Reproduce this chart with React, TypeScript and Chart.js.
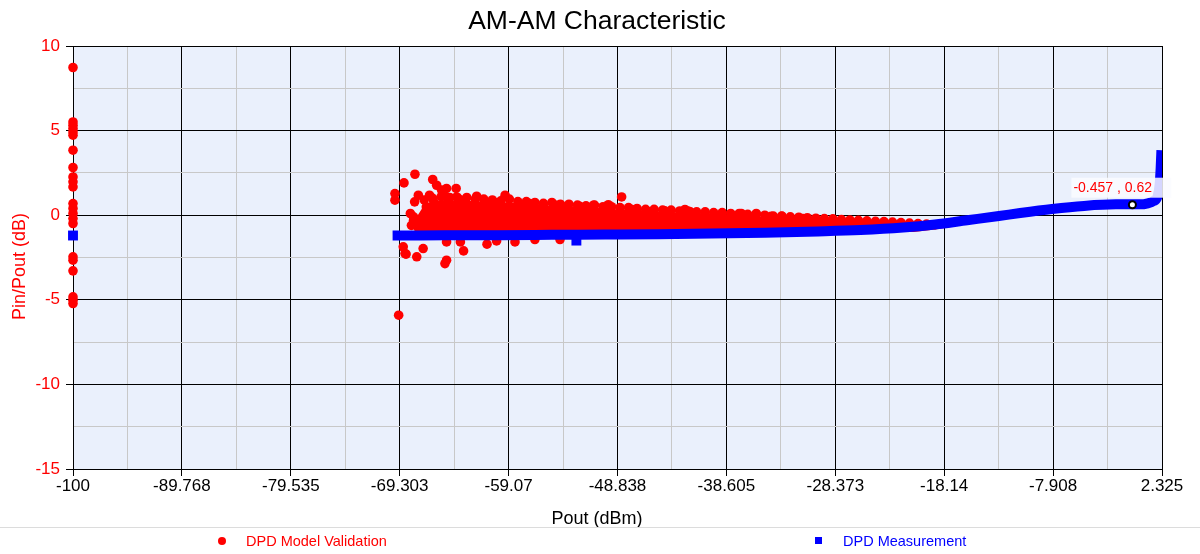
import React, { useEffect, useRef } from 'react';
import { Chart, registerables } from 'chart.js';

Chart.register(...registerables);

const FONT = '"Liberation Sans", Arial, Helvetica, sans-serif';
const RED = '#ff0000';
const BLUE = '#0000ff';
const PLOT_BG = '#eaf0fc';

// ---- axes ----
const xMin = -100;
const xMax = 2.325;
const xTickValues = [-100, -89.7675, -79.535, -69.3025, -59.07, -48.8375, -38.605, -28.3725, -18.14, -7.9075, 2.325];
const xTickLabels = ['-100', '-89.768', '-79.535', '-69.303', '-59.07', '-48.838', '-38.605', '-28.373', '-18.14', '-7.908', '2.325'];
const yTickValues = [-15, -10, -5, 0, 5, 10];
const yTickLabels = ['-15', '-10', '-5', '0', '5', '10'];

// ---- DPD Model Validation (red) ----
// points sitting on the Pout = -100 axis
const redAxisY = [8.73, 5.51, 5.32, 5.12, 4.92, 4.73, 3.84, 2.82, 2.26, 1.97, 1.67, 0.69, 0.4, 0.1, -0.2, -0.49, -2.46, -2.66, -3.29, -4.83, -5.02, -5.22];
// scattered points
const redX = [
  -69.75, -69.75, -68.9, -67.87, -66.2, -65.83, -65.36, -64.9, -64.0, -67.55, -67.9, -66.5, -62.07, -59.4,
  -68.0, -67.55, -68.97, -68.8, -67.7, -67.1, -64.9, -65.05, -63.3, -64.9, -63.6, -61.1, -60.2, -58.47,
  -56.6, -54.24, -69.4, -68.7, -48.45, -49.7, -51.1, -47.5, -45.9, -44.4, -42.5, -42.0, -37.2, -35.8,
  -34.4, -33.4, -31.4, -63.95, -63.2, -61.1, -60.2, -58.0, -57.1, -55.8, -54.6, -53.6, -52.4, -66.8,
  -66.1, -64.9, -65.5, -66.5, -67.1, -67.4, -65.8, -68.3, -68.0, -67.6, -68.2, -66.0, -65.2, -62.5,
];
const redY = [
  1.28, 0.89, 1.91, 2.42, 2.11, 1.77, 1.48, 1.58, 1.58, 1.18, 0.79, 1.18, 1.12, 1.18,
  -0.1, -0.4, -1.87, -2.27, -2.46, -1.97, -2.66, -2.86, -2.11, -1.58, -1.58, -1.71, -1.52, -1.58,
  -1.44, -1.44, -5.91, -2.3, 1.08, 0.62, 0.59, 0.34, 0.2, 0.26, 0.34, 0.2, 0.1, 0.1,
  -0.06, -0.06, -0.2, 1.08, 0.89, 0.69, 0.73, 0.59, 0.69, 0.53, 0.59, 0.49, 0.53, 0.49,
  0.79, 1.08, 0.3, 0.0, -0.3, -0.49, -0.49, 0.1, -0.3, -0.7, -0.6, -0.9, -0.3, -1.1,
];
// points along the top of the dense red cloud
const redEdgeX = [
  -67.0, -66.2, -65.4, -64.6, -63.8, -63.0, -62.2, -61.4, -60.6, -59.8, -59.0, -58.2, -57.4, -56.6, -55.8,
  -55.0, -54.2, -53.4, -52.6, -51.8, -51.0, -50.2, -49.4, -48.6, -47.8, -47.0, -46.2, -45.4, -44.6, -43.8,
  -43.0, -42.2, -41.4, -40.6, -39.8, -39.0, -38.2, -37.4, -36.6, -35.8, -35.0, -34.2, -33.4, -32.6, -31.8,
  -31.0, -30.2, -29.4, -28.6, -27.8, -27.0, -26.2, -25.4, -24.6, -23.8, -23.0, -22.2, -21.4, -20.6, -19.8, -19.0,
];
const redEdgeY = [
  0.9, 1.0, 1.1, 1.05, 1.0, 1.05, 0.95, 0.95, 0.9, 0.85, 0.95, 0.8, 0.8, 0.75, 0.7,
  0.75, 0.65, 0.65, 0.6, 0.55, 0.6, 0.5, 0.5, 0.45, 0.45, 0.4, 0.35, 0.35, 0.3, 0.3,
  0.25, 0.25, 0.2, 0.2, 0.15, 0.15, 0.1, 0.1, 0.05, 0.05, 0.0, -0.05, -0.05, -0.1, -0.12,
  -0.15, -0.18, -0.2, -0.22, -0.26, -0.28, -0.3, -0.33, -0.36, -0.38, -0.41, -0.44, -0.47, -0.5, -0.53, -0.56,
];
// dense red cloud envelope
const bandX = [-67.8, -67.0, -66.0, -65.0, -63.0, -61.0, -59.0, -57.0, -55.0, -53.0, -51.0, -49.0, -47.0, -45.0, -43.0, -41.0, -39.0, -37.0, -35.0, -33.0, -31.0, -29.0, -27.0, -25.0, -23.0, -21.0, -19.0, -17.5];
const bandUpper = [-0.2, 0.6, 0.85, 0.9, 0.85, 0.8, 0.75, 0.65, 0.55, 0.5, 0.45, 0.35, 0.3, 0.2, 0.15, 0.1, 0.05, 0.0, -0.1, -0.15, -0.2, -0.25, -0.3, -0.38, -0.45, -0.52, -0.6, -0.66];
const bandLower = [-0.9, -1.3, -1.35, -1.35, -1.35, -1.3, -1.3, -1.3, -1.25, -1.25, -1.2, -1.2, -1.2, -1.15, -1.15, -1.1, -1.1, -1.05, -1.05, -1.0, -1.0, -0.98, -0.98, -0.98, -0.98, -1.0, -0.85, -0.7];

// ---- DPD Measurement (blue) ----
const blueX = [-69.5, -65, -60, -55, -50, -45, -40, -35, -30, -26, -22, -19, -16, -13, -11, -8, -5, -2, 0.2, 1.0, 1.5, 1.9, 2.1, 2.2, 2.25];
const blueY = [-1.2, -1.19, -1.18, -1.16, -1.14, -1.12, -1.08, -1.03, -0.96, -0.88, -0.73, -0.55, -0.3, -0.05, 0.13, 0.37, 0.55, 0.64, 0.64, 0.7, 0.82, 1.1, 1.8, 2.8, 3.55];
const blueSquareX = [-100, -52.7];
const blueSquareY = [-1.2, -1.5];

// ---- marker ----
const markerX = -0.457;
const markerY = 0.62;
const markerLabel = `${markerX} , ${markerY}`;

const titleText = 'AM-AM Characteristic';
const xTitle = 'Pout (dBm)';
const yTitle = 'Pin/Pout (dB)';
const legendNames = ['DPD Model Validation', 'DPD Measurement'];

function gridValues(major: number[]): number[] {
  const out: number[] = [];
  major.forEach((v, i) => {
    out.push(v);
    if (i < major.length - 1) out.push((v + major[i + 1]) / 2);
  });
  return out;
}

const plotBgPlugin = {
  id: 'plotBg',
  beforeDraw(chart: any) {
    const { ctx, chartArea } = chart;
    ctx.save();
    ctx.fillStyle = PLOT_BG;
    ctx.fillRect(chartArea.left, chartArea.top, chartArea.right - chartArea.left, chartArea.bottom - chartArea.top);
    ctx.restore();
  },
};

const extrasPlugin = {
  id: 'extras',
  afterDraw(chart: any) {
    const { ctx, chartArea } = chart;
    const xs = chart.scales.x;
    const ys = chart.scales.y;
    ctx.save();
    // chart title
    ctx.font = `26.5px ${FONT}`;
    ctx.fillStyle = '#000';
    ctx.textAlign = 'center';
    ctx.textBaseline = 'middle';
    ctx.fillText(titleText, 597, 22);
    // x axis title
    ctx.font = `18px ${FONT}`;
    ctx.fillText(xTitle, 597, 519);
    ctx.restore();
    // y axis title
    ctx.save();
    ctx.translate(20, (chartArea.top + chartArea.bottom) / 2 + 9);
    ctx.rotate(-Math.PI / 2);
    ctx.font = `18px ${FONT}`;
    ctx.fillStyle = RED;
    ctx.textAlign = 'center';
    ctx.textBaseline = 'middle';
    ctx.fillText(yTitle, 0, 0);
    ctx.restore();
    // marker label
    const px = xs.getPixelForValue(markerX);
    const py = ys.getPixelForValue(markerY);
    ctx.save();
    ctx.fillStyle = 'rgba(250,252,255,0.85)';
    ctx.fillRect(px - 61, py - 27, 100, 20);
    ctx.font = `14px ${FONT}`;
    ctx.fillStyle = RED;
    ctx.textAlign = 'left';
    ctx.textBaseline = 'middle';
    ctx.fillText(markerLabel, px - 59, py - 17);
    ctx.restore();
  },
};

export default function App() {
  const ref = useRef<HTMLCanvasElement>(null);

  useEffect(() => {
    const xGrid = gridValues(xTickValues);
    const yGrid = gridValues(yTickValues);
    const redPoints = [
      ...redAxisY.map((y) => ({ x: xMin, y })),
      ...redX.map((x, i) => ({ x, y: redY[i] })),
      ...redEdgeX.map((x, i) => ({ x, y: redEdgeY[i] })),
    ];
    const chart = new Chart(ref.current as HTMLCanvasElement, {
      type: 'line',
      data: {
        datasets: [
          {
            label: legendNames[0],
            data: redPoints,
            showLine: false,
            pointRadius: 4.8,
            pointBorderWidth: 0,
            pointBackgroundColor: RED,
            pointStyle: 'circle',
            order: 2,
            clip: false as any,
          },
          {
            label: 'bandUpper',
            data: bandX.map((x, i) => ({ x, y: bandUpper[i] })),
            showLine: true,
            borderWidth: 0,
            borderColor: RED,
            backgroundColor: RED,
            pointRadius: 0,
            fill: '+1',
            tension: 0,
            order: 3,
          },
          {
            label: 'bandLower',
            data: bandX.map((x, i) => ({ x, y: bandLower[i] })),
            showLine: true,
            borderWidth: 0,
            borderColor: RED,
            pointRadius: 0,
            fill: false,
            tension: 0,
            order: 3,
          },
          {
            label: legendNames[1],
            data: blueX.map((x, i) => ({ x, y: blueY[i] })),
            showLine: true,
            borderColor: BLUE,
            borderWidth: 10,
            borderJoinStyle: 'round',
            borderCapStyle: 'square',
            cubicInterpolationMode: 'monotone',
            pointRadius: 0,
            fill: false,
            order: 1,
          },
          {
            label: 'blueSquares',
            data: blueSquareX.map((x, i) => ({ x, y: blueSquareY[i] })),
            showLine: false,
            pointStyle: 'rect',
            pointRadius: 7,
            pointBorderWidth: 0,
            pointBackgroundColor: BLUE,
            order: 1,
            clip: false as any,
          },
          {
            label: 'marker',
            data: [{ x: markerX, y: markerY }],
            showLine: false,
            pointRadius: 3.5,
            pointBorderWidth: 2,
            pointBorderColor: '#000',
            pointBackgroundColor: '#fff',
            order: 0,
            clip: false as any,
          },
        ] as any,
      },
      options: {
        responsive: false,
        animation: false,
        events: [],
        layout: { padding: { left: 0, right: 38, top: 46, bottom: 0 } },
        plugins: {
          legend: { display: false },
          tooltip: { enabled: false },
          title: { display: false },
        },
        scales: {
          x: {
            type: 'linear',
            min: xMin,
            max: xMax,
            afterBuildTicks: (s: any) => {
              s.ticks = xGrid.map((v) => ({ value: v }));
            },
            afterFit: (s: any) => {
              s.height = 85;
            },
            ticks: {
              autoSkip: false,
              maxRotation: 0,
              minRotation: 0,
              padding: 0,
              color: '#000',
              font: { family: FONT, size: 17 },
              callback: (_v: any, i: number) => (i % 2 === 0 ? xTickLabels[i / 2] : ''),
            },
            grid: {
              color: (c: any) => (c.index % 2 === 0 ? '#000' : '#c8c8c8'),
              tickColor: (c: any) => (c.index % 2 === 0 ? '#000' : 'rgba(0,0,0,0)'),
              tickLength: 7,
              lineWidth: 1,
            },
            border: { color: '#000', width: 1 },
            title: { display: false },
          },
          y: {
            type: 'linear',
            min: -15,
            max: 10,
            afterBuildTicks: (s: any) => {
              s.ticks = yGrid.map((v) => ({ value: v }));
            },
            afterFit: (s: any) => {
              s.width = 73;
            },
            ticks: {
              autoSkip: false,
              padding: 6,
              color: RED,
              font: { family: FONT, size: 17 },
              callback: (_v: any, i: number) => (i % 2 === 0 ? yTickLabels[i / 2] : ''),
            },
            grid: {
              color: (c: any) => (c.index % 2 === 0 ? '#000' : '#c8c8c8'),
              tickColor: (c: any) => (c.index % 2 === 0 ? '#000' : 'rgba(0,0,0,0)'),
              tickLength: 7,
              lineWidth: 1,
            },
            border: { color: '#000', width: 1 },
            title: { display: false },
          },
        },
      },
      plugins: [plotBgPlugin, extrasPlugin],
    });
    return () => chart.destroy();
  }, []);

  const legendText: React.CSSProperties = {
    position: 'absolute',
    top: 532,
    fontFamily: FONT,
    fontSize: 14.5,
    lineHeight: '18px',
    whiteSpace: 'nowrap',
  };

  return (
    <div style={{ position: 'fixed', left: 0, top: 0, width: 1200, height: 554, background: '#fff', overflow: 'hidden' }}>
      <canvas ref={ref} width={1200} height={554} style={{ display: 'block', width: 1200, height: 554 }} />
      <div style={{ position: 'absolute', left: 0, top: 527, width: 1200, height: 1, background: '#dcdcdc' }} />
      <div style={{ position: 'absolute', left: 218, top: 537, width: 8, height: 8, borderRadius: '50%', background: RED }} />
      <div style={{ ...legendText, left: 246, color: RED }}>{legendNames[0]}</div>
      <div style={{ position: 'absolute', left: 815, top: 537, width: 7, height: 7, background: BLUE }} />
      <div style={{ ...legendText, left: 843, color: BLUE }}>{legendNames[1]}</div>
    </div>
  );
}
